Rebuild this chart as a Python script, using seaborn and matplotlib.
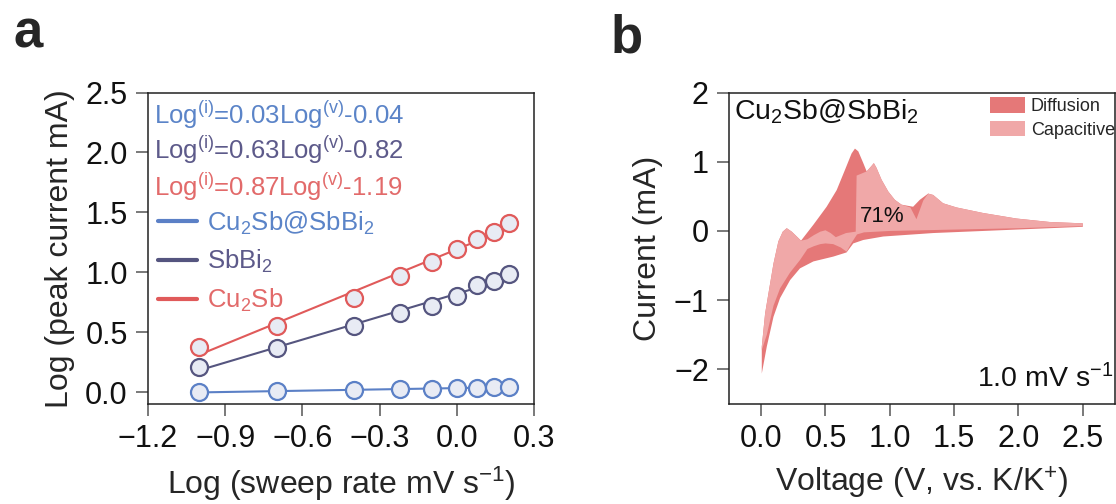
import numpy as np
import matplotlib
matplotlib.use("Agg")
import matplotlib.pyplot as plt
from matplotlib.lines import Line2D
from matplotlib.patches import Patch
from matplotlib.ticker import FuncFormatter
import seaborn as sns

# ---------------- data ----------------
# panel a: log(sweep rate) vs log(peak current)
log_rate = [-1.0, -0.699, -0.398, -0.222, -0.097, 0.0, 0.079, 0.146, 0.204]
peak_cu2sb_sbbi2 = [0.00, 0.008, 0.014, 0.022, 0.028, 0.031, 0.036, 0.042, 0.042]
peak_sbbi2 = [0.209, 0.371, 0.552, 0.658, 0.720, 0.798, 0.893, 0.929, 0.985]
peak_cu2sb = [0.377, 0.547, 0.781, 0.965, 1.088, 1.191, 1.278, 1.339, 1.409]
series_names = ["Cu$_2$Sb@SbBi$_2$", "SbBi$_2$", "Cu$_2$Sb"]
fit_labels = [
    r"Log$^{\mathrm{(i)}}$=0.03Log$^{\mathrm{(v)}}$-0.04",
    r"Log$^{\mathrm{(i)}}$=0.63Log$^{\mathrm{(v)}}$-0.82",
    r"Log$^{\mathrm{(i)}}$=0.87Log$^{\mathrm{(v)}}$-1.19",
]
a_xticks = [-1.2, -0.9, -0.6, -0.3, 0.0, 0.3]
a_yticks = [0.0, 0.5, 1.0, 1.5, 2.0, 2.5]

# panel b: CV at 1.0 mV/s split into diffusion / capacitive parts
volt_total_up = [0.005, 0.031, 0.057, 0.096, 0.134, 0.168, 0.199, 0.238, 0.277, 0.310,
                 0.406, 0.509, 0.587, 0.651, 0.703, 0.729, 0.755, 0.794, 0.820, 0.858,
                 0.876, 0.897, 0.936, 0.988, 1.039, 1.091, 1.181, 1.233, 1.298, 1.337,
                 1.414, 1.518, 1.724, 1.983, 2.241, 2.5]
curr_total_up = [-1.67, -1.19, -0.90, -0.47, -0.15, -0.01, 0.04, -0.01, -0.08, -0.14,
                 0.09, 0.35, 0.59, 0.88, 1.12, 1.19, 1.15, 0.98, 0.86, 0.94,
                 0.98, 0.91, 0.74, 0.57, 0.45, 0.38, 0.35, 0.45, 0.54, 0.52,
                 0.40, 0.34, 0.26, 0.18, 0.13, 0.11]
volt_total_low = [0.005, 0.044, 0.096, 0.147, 0.225, 0.302, 0.406, 0.561, 0.664, 0.716,
                  0.794, 0.949, 1.337, 1.854, 2.5]
curr_total_low = [-2.06, -1.67, -1.24, -0.97, -0.71, -0.54, -0.44, -0.37, -0.31, -0.18,
                  -0.13, -0.08, -0.03, 0.01, 0.06]

volt_cap_up = [0.005, 0.031, 0.057, 0.096, 0.134, 0.168, 0.199, 0.238, 0.277, 0.310,
               0.36, 0.41, 0.46, 0.50, 0.54, 0.58, 0.62, 0.66, 0.735, 0.742,
               0.755, 0.794, 0.820, 0.858, 0.876, 0.897, 0.936, 0.988, 1.039, 1.091,
               1.16, 1.207, 1.26, 1.298, 1.337, 1.414, 1.518, 1.724, 1.983, 2.241, 2.5]
curr_cap_up = [-1.67, -1.19, -0.90, -0.47, -0.15, -0.01, 0.04, -0.01, -0.08, -0.14,
               -0.12, -0.06, -0.01, 0.01, -0.03, -0.09, -0.06, -0.03, -0.01, 0.80,
               0.81, 0.84, 0.86, 0.94, 0.98, 0.91, 0.74, 0.57, 0.45, 0.38,
               0.34, 0.17, 0.44, 0.54, 0.52, 0.40, 0.34, 0.26, 0.18, 0.13, 0.11]
volt_cap_low = [0.005, 0.044, 0.096, 0.147, 0.225, 0.302, 0.36, 0.41, 0.46, 0.50,
                0.56, 0.62, 0.664, 0.70, 0.745, 0.80, 1.0, 1.5, 2.0, 2.5]
curr_cap_low = [-1.72, -1.50, -1.08, -0.83, -0.60, -0.42, -0.26, -0.22, -0.19, -0.18,
                -0.19, -0.24, -0.30, -0.18, -0.05, -0.02, 0.0, 0.02, 0.04, 0.07]
capacitive_share = 71
b_xticks = [0.0, 0.5, 1.0, 1.5, 2.0, 2.5]
b_yticks = [-2, -1, 0, 1, 2]

# ---------------- style ----------------
sns.set_theme(style="ticks")
plt.rcParams["font.family"] = ["Liberation Sans", "DejaVu Sans"]
plt.rcParams.update({
    "mathtext.fontset": "custom",
    "mathtext.rm": "Liberation Sans",
    "mathtext.it": "Liberation Sans:italic",
    "mathtext.bf": "Liberation Sans:bold",
    "mathtext.sf": "Liberation Sans",
    "axes.linewidth": 1.1,
    "axes.edgecolor": "#222222",
    "xtick.color": "#555555",
    "ytick.color": "#555555",
    "xtick.labelcolor": "#111111",
    "ytick.labelcolor": "#111111",
    "xtick.major.size": 8.5,
    "ytick.major.size": 8.5,
    "xtick.major.width": 1.1,
    "ytick.major.width": 1.1,
    "xtick.labelsize": 22,
    "ytick.labelsize": 22,
})

line_colors = ["#5b80c6", "#55557f", "#e05a5a"]
text_colors = ["#5b84c8", "#5d5a8a", "#e26a6a"]
marker_face = "#e8ebf4"
diff_color = "#e57878"
cap_color = "#f0a8a8"


def one_decimal(v, _pos):
    return f"{v:.1f}".replace("-", "\u2212")


fig = plt.figure(figsize=(11.16, 5.04), dpi=100)
ax_a = fig.add_axes([0.1326, 0.1984, 0.3459, 0.618])
ax_b = fig.add_axes([0.6532, 0.1984, 0.3459, 0.618])

# ---------------- panel a ----------------
for vals, c in zip([peak_cu2sb_sbbi2, peak_sbbi2, peak_cu2sb], line_colors):
    sns.regplot(x=np.array(log_rate), y=np.array(vals), ax=ax_a, ci=None, color=c,
                truncate=True,
                scatter_kws=dict(s=150, facecolors=marker_face, edgecolors=c,
                                 linewidths=1.6, alpha=1, zorder=3),
                line_kws=dict(lw=1.5, zorder=2))

ax_a.set_xlim(-1.2, 0.3)
ax_a.set_ylim(-0.1, 2.5)
ax_a.set_xticks(a_xticks)
ax_a.set_yticks(a_yticks)
ax_a.xaxis.set_major_formatter(FuncFormatter(one_decimal))
ax_a.yaxis.set_major_formatter(FuncFormatter(one_decimal))
ax_a.tick_params(axis="both", direction="out", pad=6)
ax_a.set_xlabel("Log (sweep rate mV s$^{-1}$)", fontsize=23)
ax_a.set_ylabel("Log (peak current mA)", fontsize=23)
ax_a.xaxis.set_label_coords(0.5, -0.196)
ax_a.yaxis.set_label_coords(-0.19, 0.5)

for lbl, c, yy in zip(fit_labels, text_colors, [0.928, 0.815, 0.697]):
    ax_a.text(0.016, yy, lbl, transform=ax_a.transAxes, color=c, fontsize=18.5,
              ha="left", va="center")

handles_a = [Line2D([], [], color=c, lw=3) for c in line_colors]
leg_a = ax_a.legend(handles_a, series_names, loc="upper left",
                    bbox_to_anchor=(0.026, 0.625), frameon=False, fontsize=18.5,
                    handlelength=1.5, handletextpad=0.4, labelspacing=0.45,
                    borderpad=0, borderaxespad=0)
for t, c in zip(leg_a.get_texts(), text_colors):
    t.set_color(c)

# ---------------- panel b ----------------
ax_b.fill(np.r_[volt_total_up, volt_total_low[::-1]],
          np.r_[curr_total_up, curr_total_low[::-1]],
          color=diff_color, lw=0, zorder=2)
ax_b.fill(np.r_[volt_cap_up, volt_cap_low[::-1]],
          np.r_[curr_cap_up, curr_cap_low[::-1]],
          color=cap_color, lw=0, zorder=3)

ax_b.set_xlim(-0.25, 2.75)
ax_b.set_ylim(-2.5, 2)
ax_b.set_xticks(b_xticks)
ax_b.set_yticks(b_yticks)
ax_b.xaxis.set_major_formatter(FuncFormatter(one_decimal))
ax_b.tick_params(axis="both", direction="out", pad=6)
ax_b.set_xlabel("Voltage (V, vs. K/K$^{+}$)", fontsize=23)
ax_b.set_ylabel("Current (mA)", fontsize=23)
ax_b.xaxis.set_label_coords(0.5, -0.196)
ax_b.yaxis.set_label_coords(-0.17, 0.5)

ax_b.text(0.94, 0.21, f"{capacitive_share}%", fontsize=16, ha="center", va="center",
          color="#111111", zorder=5)
ax_b.text(0.012, 0.985, "Cu$_2$Sb@SbBi$_2$", transform=ax_b.transAxes, fontsize=20.5,
          ha="left", va="top", color="#111111")
ax_b.text(0.995, 0.035, "1.0 mV s$^{-1}$", transform=ax_b.transAxes, fontsize=20.5,
          ha="right", va="bottom", color="#111111")

handles_b = [Patch(facecolor=diff_color, edgecolor="none"),
             Patch(facecolor=cap_color, edgecolor="none")]
ax_b.legend(handles_b, ["Diffusion", "Capacitive"], loc="upper right",
            bbox_to_anchor=(1.0, 0.985), frameon=False, fontsize=13,
            handlelength=1.95, handleheight=0.95, handletextpad=0.3,
            labelspacing=0.3, borderpad=0, borderaxespad=0)

# panel letters
fig.text(0.012, 0.905, "a", fontsize=38, fontweight="bold", ha="left", va="baseline")
fig.text(0.547, 0.895, "b", fontsize=38, fontweight="bold", ha="left", va="baseline")

fig.savefig("out.png", dpi=100)
